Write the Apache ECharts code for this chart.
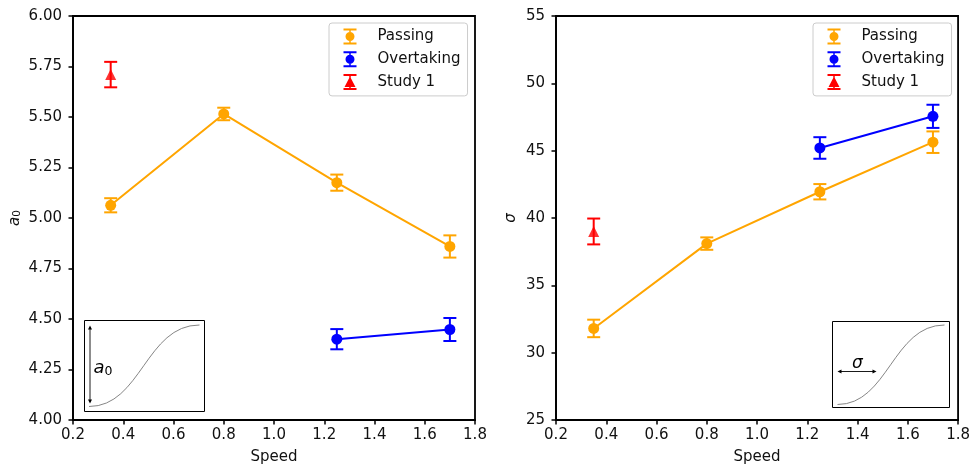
<!DOCTYPE html>
<html>
<head>
<meta charset="utf-8">
<script src="https://cdn.jsdelivr.net/npm/echarts@6/dist/echarts.min.js"></script>
<style>html,body{margin:0;padding:0;background:#fff}#c{width:973px;height:470px}</style>
</head>
<body>
<div id="c"></div>
<script>
// ---- data ----
const xTicks = [0.2, 0.4, 0.6, 0.8, 1.0, 1.2, 1.4, 1.6, 1.8];
const a0Ticks = [4.00, 4.25, 4.50, 4.75, 5.00, 5.25, 5.50, 5.75, 6.00];
const sigmaTicks = [25, 30, 35, 40, 45, 50, 55];

const passingSpeed = [0.35, 0.8, 1.25, 1.7];
const overtakingSpeed = [1.25, 1.7];
const study1Speed = [0.35];

const a0Passing = [5.063, 5.515, 5.175, 4.859];
const a0PassingErr = [0.035, 0.031, 0.040, 0.055];
const a0Overtaking = [4.400, 4.448];
const a0OvertakingErr = [0.050, 0.057];
const a0Study1 = [5.710];
const a0Study1Err = [0.063];

const sigmaPassing = [31.8, 38.1, 41.95, 45.63];
const sigmaPassingErr = [0.65, 0.46, 0.57, 0.80];
const sigmaOvertaking = [45.2, 47.55];
const sigmaOvertakingErr = [0.80, 0.86];
const sigmaStudy1 = [39.0];
const sigmaStudy1Err = [0.96];

const seriesNames = ['Passing', 'Overtaking', 'Study 1'];
const ORANGE = '#FFA500', BLUE = '#0000FF', RED = '#FF0000';

// ---- helpers ----
const pts = (xs, ys) => xs.map((x, i) => [x, ys[i]]);
const errPts = (xs, ys, es) => xs.map((x, i) => [x, ys[i] - es[i], ys[i] + es[i]]);

function errSeries(name, idx, data, color) {
  return {
    type: 'custom', name, xAxisIndex: idx, yAxisIndex: idx, z: 2,
    itemStyle: { color },
    data,
    renderItem: function (params, api) {
      const x = api.value(0), lo = api.value(1), hi = api.value(2);
      const p1 = api.coord([x, hi]), p2 = api.coord([x, lo]);
      const hw = 6.5;
      const st = { stroke: color, lineWidth: 2 };
      return { type: 'group', children: [
        { type: 'line', shape: { x1: p1[0], y1: p1[1], x2: p2[0], y2: p2[1] }, style: st },
        { type: 'line', shape: { x1: p1[0] - hw, y1: p1[1], x2: p1[0] + hw, y2: p1[1] }, style: st },
        { type: 'line', shape: { x1: p2[0] - hw, y1: p2[1], x2: p2[0] + hw, y2: p2[1] }, style: st }
      ]};
    }
  };
}
function lineSeries(name, idx, data, color) {
  return {
    type: 'line', name, xAxisIndex: idx, yAxisIndex: idx, z: 3,
    data, symbol: 'circle', symbolSize: 11, showSymbol: true,
    itemStyle: { color }, lineStyle: { color, width: 2 },
    emphasis: { disabled: true }, animation: false
  };
}
function triSeries(name, idx, data, color) {
  return {
    type: 'scatter', name, xAxisIndex: idx, yAxisIndex: idx, z: 3,
    data, symbol: 'triangle', symbolSize: [11, 11],
    itemStyle: { color }, animation: false
  };
}

const FONT = 'DejaVu Sans';
const TXT = '#111';

function xAxis(idx) {
  return {
    type: 'value', gridIndex: idx, min: xTicks[0], max: xTicks[xTicks.length - 1], interval: 0.2,
    name: 'Speed', nameLocation: 'middle', nameGap: 30,
    nameTextStyle: { fontFamily: FONT, fontSize: 15, color: TXT },
    axisLine: { show: true, onZero: false, lineStyle: { color: '#000', width: 1.8 } },
    axisTick: { show: true, length: 4.5, lineStyle: { color: '#000', width: 1.5 } },
    axisLabel: { fontFamily: FONT, fontSize: 15, color: TXT, margin: 8, formatter: v => v.toFixed(1) },
    splitLine: { show: false }
  };
}
function yAxis(idx, ticks, interval, digits, name, gap) {
  return {
    type: 'value', gridIndex: idx, min: ticks[0], max: ticks[ticks.length - 1], interval,
    name, nameLocation: 'middle', nameGap: gap, nameRotate: 90,
    nameTextStyle: { fontFamily: FONT, fontSize: 14, color: TXT,
      rich: { i: { fontFamily: FONT, fontStyle: 'italic', fontSize: 15, color: TXT },
              s: { fontFamily: FONT, fontSize: 10.5, color: TXT, padding: [5, 0, 0, 0] } } },
    axisLine: { show: true, onZero: false, lineStyle: { color: '#000', width: 1.8 } },
    axisTick: { show: true, length: 4.5, lineStyle: { color: '#000', width: 1.5 } },
    axisLabel: { fontFamily: FONT, fontSize: 15, color: TXT, margin: 11, formatter: v => v.toFixed(digits) },
    splitLine: { show: false }
  };
}

const iconCircle = 'path://M0,0L13,0L13,2L0,2Z M5.75,0L7.25,0L7.25,16L5.75,16Z M0,14L13,14L13,16L0,16Z M2,8A4.5,4.5 0 1 1 11,8A4.5,4.5 0 1 1 2,8Z';
const iconTri = 'path://M0,0L13,0L13,2L0,2Z M5.75,0L7.25,0L7.25,16L5.75,16Z M0,14L13,14L13,16L0,16Z M6.5,2.5L12,13L1,13Z';

function legend(left) {
  return {
    orient: 'vertical', left, top: 23,
    padding: [5.5, 7, 6, 14.5], itemGap: 6.7, itemWidth: 13, itemHeight: 16,
    backgroundColor: 'rgba(255,255,255,0.8)', borderColor: '#cccccc', borderWidth: 1, borderRadius: 3,
    textStyle: { fontFamily: FONT, fontSize: 15, color: TXT, lineHeight: 16, padding: [0, 0, 0, 16] },
    selectedMode: false,
    data: [
      { name: seriesNames[0], icon: iconCircle },
      { name: seriesNames[1], icon: iconCircle },
      { name: seriesNames[2], icon: iconTri }
    ]
  };
}

function arrowHead(x, y, dir) {
  const L = 4, W = 2;
  let p;
  if (dir === 'up') p = [[x, y], [x - W, y + L], [x + W, y + L]];
  else if (dir === 'down') p = [[x, y], [x - W, y - L], [x + W, y - L]];
  else if (dir === 'left') p = [[x, y], [x + L, y - W], [x + L, y + W]];
  else p = [[x, y], [x - L, y - W], [x - L, y + W]];
  return { type: 'polygon', z: 102, shape: { points: p }, style: { fill: '#000' } };
}

const graphics = [
  // left inset
  { type: 'rect', z: 100, shape: { x: 84.5, y: 320.5, width: 120, height: 91 }, style: { fill: '#fff', stroke: '#000', lineWidth: 1 } },
  { type: 'bezierCurve', z: 101, shape: { x1: 89, y1: 406.5, cpx1: 141, cpy1: 406.5, cpx2: 146, cpy2: 325, x2: 199.5, y2: 325 }, style: { stroke: '#777', lineWidth: 0.9, fill: null } },
  { type: 'line', z: 101, shape: { x1: 90, y1: 327, x2: 90, y2: 402 }, style: { stroke: '#000', lineWidth: 0.9 } },
  arrowHead(90, 325.5, 'up'), arrowHead(90, 403.5, 'down'),
  { type: 'text', z: 102, x: 93.5, y: 368, style: { text: '{i|a}{s|0}', verticalAlign: 'middle', align: 'left',
      rich: { i: { fontFamily: FONT, fontStyle: 'italic', fontSize: 18, fill: '#000' },
              s: { fontFamily: FONT, fontSize: 12.5, fill: '#000', padding: [7, 0, 0, 0] } } } },
  // right inset
  { type: 'rect', z: 100, shape: { x: 832.5, y: 321.5, width: 117, height: 86 }, style: { fill: '#fff', stroke: '#000', lineWidth: 1 } },
  { type: 'bezierCurve', z: 101, shape: { x1: 837.5, y1: 404.5, cpx1: 888, cpy1: 404.5, cpx2: 893, cpy2: 325, x2: 944.5, y2: 325 }, style: { stroke: '#777', lineWidth: 0.9, fill: null } },
  { type: 'line', z: 101, shape: { x1: 839, y1: 371.5, x2: 875, y2: 371.5 }, style: { stroke: '#000', lineWidth: 0.9 } },
  arrowHead(837.5, 371.5, 'left'), arrowHead(876.5, 371.5, 'right'),
  { type: 'text', z: 102, x: 857.5, y: 363.5, style: { text: 'σ', align: 'center', verticalAlign: 'middle',
      fontFamily: FONT, fontStyle: 'italic', fontSize: 17, fill: '#000' } }
];

const option = {
  backgroundColor: '#fff',
  animation: false,
  grid: [
    { left: 73, top: 16, width: 402, height: 405, show: true, borderColor: '#000', borderWidth: 1.8, backgroundColor: 'transparent' },
    { left: 556, top: 16, width: 402.5, height: 405, show: true, borderColor: '#000', borderWidth: 1.8, backgroundColor: 'transparent' }
  ],
  xAxis: [xAxis(0), xAxis(1)],
  yAxis: [
    yAxis(0, a0Ticks, 0.25, 2, '{i|a}{s|0}', 50),
    yAxis(1, sigmaTicks, 5, 0, '{i|σ}', 37)
  ],
  legend: [legend(329), legend(813)],
  series: [
    errSeries('Passing', 0, errPts(passingSpeed, a0Passing, a0PassingErr), ORANGE),
    lineSeries('Passing', 0, pts(passingSpeed, a0Passing), ORANGE),
    errSeries('Overtaking', 0, errPts(overtakingSpeed, a0Overtaking, a0OvertakingErr), BLUE),
    lineSeries('Overtaking', 0, pts(overtakingSpeed, a0Overtaking), BLUE),
    errSeries('Study 1', 0, errPts(study1Speed, a0Study1, a0Study1Err), RED),
    triSeries('Study 1', 0, pts(study1Speed, a0Study1), RED),

    errSeries('Passing', 1, errPts(passingSpeed, sigmaPassing, sigmaPassingErr), ORANGE),
    lineSeries('Passing', 1, pts(passingSpeed, sigmaPassing), ORANGE),
    errSeries('Overtaking', 1, errPts(overtakingSpeed, sigmaOvertaking, sigmaOvertakingErr), BLUE),
    lineSeries('Overtaking', 1, pts(overtakingSpeed, sigmaOvertaking), BLUE),
    errSeries('Study 1', 1, errPts(study1Speed, sigmaStudy1, sigmaStudy1Err), RED),
    triSeries('Study 1', 1, pts(study1Speed, sigmaStudy1), RED)
  ],
  graphic: graphics
};

const chart = echarts.init(document.getElementById('c'), null, { renderer: 'canvas' });
chart.setOption(option);
</script>
</body>
</html>
